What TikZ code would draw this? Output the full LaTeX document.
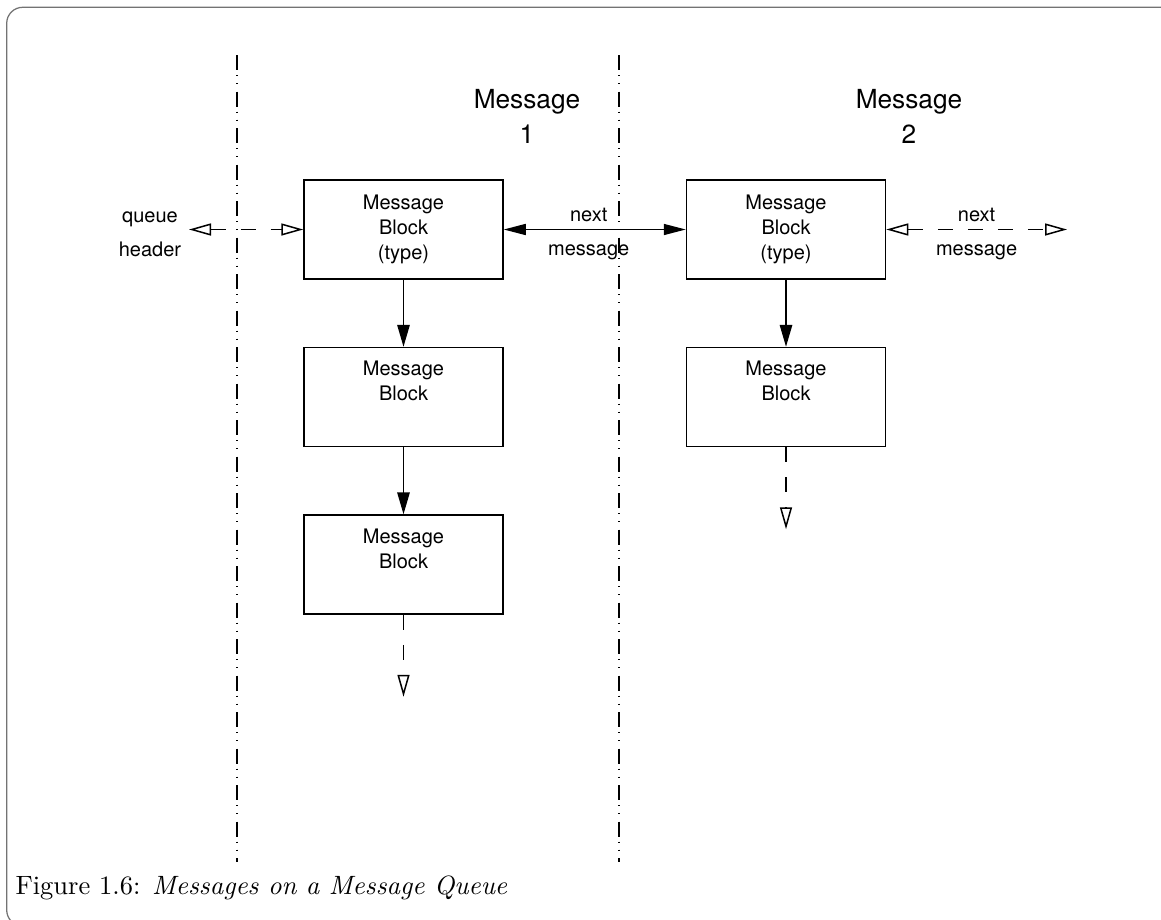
\documentclass[tikz,border=0pt]{standalone}
\usepackage{fontspec}
\newfontfamily\helv{TeX Gyre Heros}
\usetikzlibrary{positioning, arrows.meta}

\begin{document}
\begin{tikzpicture}[
    x=0.4pt, y=-0.4pt,
    node distance=26.8pt and 72.8pt,
    block/.style={rectangle, draw, line width=0.6pt, minimum width=79.6pt, minimum height=39.6pt, align=center, inner sep=0pt, font=\helv\fontsize{8}{10}\selectfont},
    lbl/.style={align=center, inner sep=0pt, font=\helv\fontsize{8}{13.6}\selectfont},
    head/.style={align=center, inner sep=0pt, font=\helv\fontsize{10.5}{14}\selectfont},
    link/.style={-{Triangle[length=8.8pt,width=5pt]}, line width=0.6pt},
    both/.style={{Triangle[length=8.8pt,width=4.4pt]}-{Triangle[length=8.8pt,width=4.4pt]}, line width=0.6pt},
    more/.style={-{Triangle[open,length=8.8pt,width=4.8pt]}, dash pattern=on 6pt off 6pt, line width=0.6pt},
    moreboth/.style={{Triangle[open,length=8.8pt,width=4.8pt]}-{Triangle[open,length=8.8pt,width=4.8pt]}, dash pattern=on 6pt off 6pt, line width=0.6pt},
    divider/.style={line width=0.6pt, dash pattern=on 6pt off 2pt on 0.4pt off 2.8pt on 0.4pt off 3pt}
]
\path[use as bounding box, clip] (0,0) rectangle (1161,920);
% frame
\draw[black!55, line width=0.5pt, rounded corners=6.4pt] (6.7,7.3) rectangle (1185,926);

% dividers
\draw[divider] (237,55) -- (237,862);
\draw[divider] (619,55) -- (619,862);

% headings
\node[head] (head1) at (527,116) {Message\\1};
\node[head] (head2) at (909,116) {Message\\2};

% Message 1
\node[block] (m1a) at (403.5,229.5) {Message\\Block\\(type)};
\node[block, below=of m1a] (m1b) {Message\\Block\\\strut};
\node[block, below=of m1b] (m1c) {Message\\Block\\\strut};

% Message 2
\node[block, right=of m1a] (m2a) {Message\\Block\\(type)};
\node[block, below=of m2a] (m2b) {Message\\Block\\\strut};

% queue header
\node[lbl] (qhdr) at (150,234) {queue\\header};
\coordinate (qtip) at (189,229.5);
\coordinate (m1end) at ([yshift=-32.8pt]m1c.south);
\coordinate (m2end) at ([yshift=-32.8pt]m2b.south);
\coordinate (nexttip) at (1067,229.5);

% arrows
\draw[link] (m1a) -- (m1b);
\draw[link] (m1b) -- (m1c);
\draw[link] (m2a) -- (m2b);
\draw[more] (m1c) -- (m1end);
\draw[more] (m2b) -- (m2end);
\draw[moreboth] (qtip) -- (m1a);
\draw[both] (m1a) -- node[lbl, yshift=-1.6pt, xshift=-2.4pt] {next\\message} (m2a);
\draw[moreboth] (m2a) -- node[lbl, yshift=-1.6pt] {next\\message} (nexttip);

% caption
\node[anchor=base west, inner sep=0pt, font=\fontsize{10.6}{12.7}\selectfont] (caption) at (15,894) {Figure 1.6: \textit{Messages on a Message Queue}};
\end{tikzpicture}
\end{document}
